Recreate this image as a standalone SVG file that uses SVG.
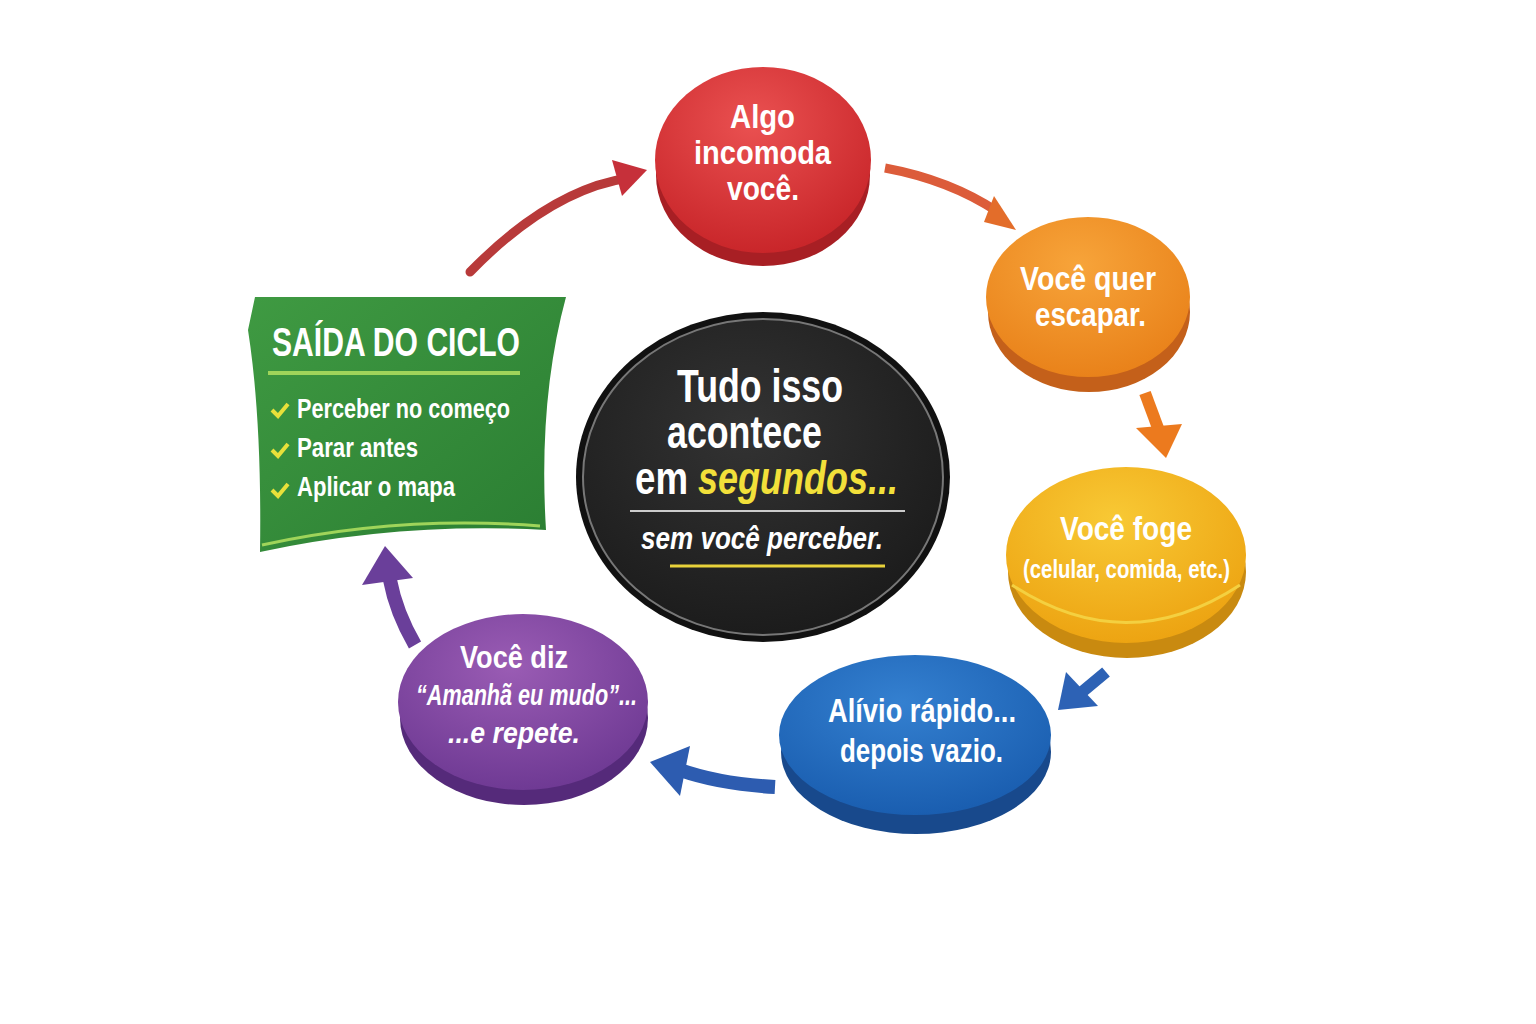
<svg xmlns="http://www.w3.org/2000/svg" width="1536" height="1024" viewBox="0 0 1536 1024">
<style>
text{font-family:"Liberation Sans","DejaVu Sans",sans-serif;font-weight:bold;fill:#fff;text-anchor:start}
.it{font-style:italic}
</style>
<defs>
<radialGradient id="gr" cx="0.45" cy="0.3" r="0.7"><stop offset="0" stop-color="#ea5151"/><stop offset="1" stop-color="#c9262a"/></radialGradient>
<radialGradient id="go" cx="0.45" cy="0.3" r="0.7"><stop offset="0" stop-color="#f7a43a"/><stop offset="1" stop-color="#e9821a"/></radialGradient>
<radialGradient id="gy" cx="0.45" cy="0.3" r="0.7"><stop offset="0" stop-color="#f8c935"/><stop offset="1" stop-color="#eda412"/></radialGradient>
<radialGradient id="gb" cx="0.45" cy="0.3" r="0.7"><stop offset="0" stop-color="#3480d0"/><stop offset="1" stop-color="#1a5eb0"/></radialGradient>
<radialGradient id="gp" cx="0.45" cy="0.3" r="0.7"><stop offset="0" stop-color="#9a5cb4"/><stop offset="1" stop-color="#6f3a94"/></radialGradient>
<radialGradient id="gk" cx="0.45" cy="0.35" r="0.7"><stop offset="0" stop-color="#333"/><stop offset="1" stop-color="#1a1a1a"/></radialGradient>
<linearGradient id="gg" x1="0" y1="0" x2="1" y2="1"><stop offset="0" stop-color="#3f9a42"/><stop offset="1" stop-color="#2a7d32"/></linearGradient>
</defs>
<g id="connectors">
<path d="M470 272 Q550 190 628 178" stroke="#b83a3a" stroke-width="9" fill="none" stroke-linecap="round"/><polygon points="647,170 612,160 622,196" fill="#c6303a"/>
<path d="M885 168 Q950 180 998 212" stroke="#dc5c3a" stroke-width="9" fill="none"/><polygon points="1016,230 994,196 984,222" fill="#e36d2a"/>
<path d="M1145 393 L1158 428" stroke="#ec7a1e" stroke-width="12" fill="none"/><polygon points="1166,458 1136,428 1182,424" fill="#ec7a1e"/>
<path d="M1106 672 L1082 692" stroke="#2d62b5" stroke-width="12" fill="none"/><polygon points="1058,710 1066,672 1098,706" fill="#2d62b5"/>
<path d="M775 787 Q720 784 680 770" stroke="#2d5cb0" stroke-width="14" fill="none"/><polygon points="650,762 690,746 680,796" fill="#2d5cb0"/>
<path d="M415 645 Q396 612 390 580" stroke="#6a3f9a" stroke-width="14" fill="none"/><polygon points="385,546 362,585 413,578" fill="#6a3f9a"/>
</g>
<g id="n-green">
<path d="M255 297 L566 297 Q538 400 546 530 Q400 522 260 552 Q262 420 248 330 Z" fill="url(#gg)"/>
<path d="M268 373 L520 373" stroke="#9fd45a" stroke-width="4"/>
<path d="M262 545 Q400 515 540 526" stroke="#9fd45a" stroke-width="3" fill="none"/>
<text x="272" y="356" font-size="40" textLength="248" lengthAdjust="spacingAndGlyphs">SAÍDA DO CICLO</text>
<g fill="none" stroke="#e8e03a" stroke-width="4"><path d="M272 410 l6 6 l10 -12"/><path d="M272 450 l6 6 l10 -12"/><path d="M272 490 l6 6 l10 -12"/></g>
<text x="297" y="418" font-size="27" textLength="213" lengthAdjust="spacingAndGlyphs">Perceber no começo</text>
<text x="297" y="457" font-size="27" textLength="121" lengthAdjust="spacingAndGlyphs">Parar antes</text>
<text x="297" y="496" font-size="27" textLength="158" lengthAdjust="spacingAndGlyphs">Aplicar o mapa</text>
</g>
<g id="n-red">
<ellipse cx="763" cy="175" rx="107" ry="91" fill="#a81f24"/>
<ellipse cx="763" cy="160" rx="108" ry="93" fill="url(#gr)"/>
<text x="730" y="128" font-size="34" textLength="65" lengthAdjust="spacingAndGlyphs">Algo</text>
<text x="694" y="164" font-size="34" textLength="137" lengthAdjust="spacingAndGlyphs">incomoda</text>
<text x="727" y="200" font-size="34" textLength="72" lengthAdjust="spacingAndGlyphs">você.</text>
</g>
<g id="n-orange">
<ellipse cx="1089" cy="312" rx="101" ry="80" fill="#c4601a"/>
<ellipse cx="1088" cy="297" rx="102" ry="80" fill="url(#go)"/>
<text x="1020" y="290" font-size="33" textLength="136" lengthAdjust="spacingAndGlyphs">Você quer</text>
<text x="1035" y="326" font-size="33" textLength="111" lengthAdjust="spacingAndGlyphs">escapar.</text>
</g>
<g id="n-yellow">
<ellipse cx="1127" cy="572" rx="119" ry="86" fill="#c98a10"/>
<ellipse cx="1126" cy="555" rx="120" ry="88" fill="url(#gy)"/>
<path d="M1012 585 Q1126 660 1240 585" stroke="#f4d040" stroke-width="3" fill="none"/>
<text x="1060" y="540" font-size="33" textLength="132" lengthAdjust="spacingAndGlyphs">Você foge</text>
<text x="1023" y="578" font-size="26" textLength="207" lengthAdjust="spacingAndGlyphs">(celular, comida, etc.)</text>
</g>
<g id="n-blue">
<ellipse cx="916" cy="752" rx="135" ry="82" fill="#18498c"/>
<ellipse cx="915" cy="735" rx="136" ry="80" fill="url(#gb)"/>
<text x="828" y="722" font-size="33" textLength="188" lengthAdjust="spacingAndGlyphs">Alívio rápido...</text>
<text x="840" y="762" font-size="33" textLength="163" lengthAdjust="spacingAndGlyphs">depois vazio.</text>
</g>
<g id="n-purple">
<ellipse cx="524" cy="718" rx="124" ry="87" fill="#552a7a"/>
<ellipse cx="523" cy="702" rx="125" ry="88" fill="url(#gp)"/>
<text x="460" y="668" font-size="32" textLength="108" lengthAdjust="spacingAndGlyphs">Você diz</text>
<text x="416" y="705" font-size="29" class="it" textLength="221" lengthAdjust="spacingAndGlyphs">“Amanhã eu mudo”...</text>
<text x="448" y="743" font-size="30" class="it" textLength="132" lengthAdjust="spacingAndGlyphs">...e repete.</text>
</g>
<g id="n-center">
<ellipse cx="763" cy="477" rx="187" ry="165" fill="#111"/>
<ellipse cx="763" cy="477" rx="180" ry="158" fill="url(#gk)" stroke="#777" stroke-width="2"/>
<path d="M630 511 L905 511" stroke="#ccc" stroke-width="2"/>
<path d="M670 566 L885 566" stroke="#e8d23a" stroke-width="3"/>
<text x="677" y="402" font-size="46" textLength="166" lengthAdjust="spacingAndGlyphs">Tudo isso</text>
<text x="667" y="448" font-size="46" textLength="155" lengthAdjust="spacingAndGlyphs">acontece</text>
<text x="635" y="494" font-size="46" textLength="53" lengthAdjust="spacingAndGlyphs">em</text>
<text x="698" y="494" font-size="46" class="it" style="fill:#f2e03a" textLength="200" lengthAdjust="spacingAndGlyphs">segundos...</text>
<text x="641" y="549" font-size="32" class="it" textLength="242" lengthAdjust="spacingAndGlyphs">sem você perceber.</text>
</g>
</svg>
